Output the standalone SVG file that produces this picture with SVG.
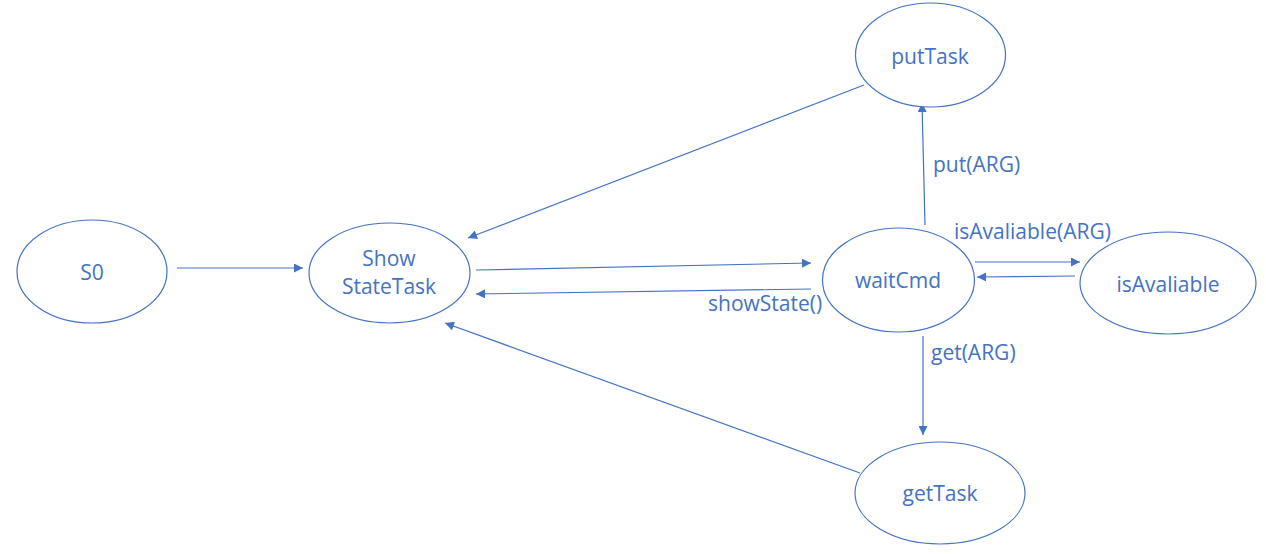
<svg xmlns="http://www.w3.org/2000/svg" width="1266" height="554" viewBox="0 0 1266 554">
<style>
.node{fill:#fff;stroke:#4472C4;stroke-width:1.2}
.t{font-family:"Open Sans","Liberation Sans",sans-serif;font-size:21px;fill:#4472C4;text-anchor:middle;dominant-baseline:central}
.lbl{font-family:"Open Sans","Liberation Sans",sans-serif;font-size:21px;fill:#4472C4;dominant-baseline:central}
.e{stroke:#4472C4;stroke-width:1.2;fill:none;marker-end:url(#ah)}
</style>
<defs>
<marker id="ah" viewBox="0 0 10 10" refX="10" refY="5" markerWidth="10" markerHeight="9" markerUnits="userSpaceOnUse" orient="auto">
<path d="M0,0 L10,5 L0,10 z" fill="#4472C4"/>
</marker>
</defs>
<rect width="1266" height="554" fill="#fff"/>
<g id="connectors">
<line class="e" x1="177" y1="268" x2="303" y2="268"/>
<line class="e" x1="476" y1="270" x2="811" y2="263"/>
<line class="e" x1="811" y1="289" x2="476" y2="294"/>
<line class="e" x1="864" y1="85" x2="468" y2="238"/>
<line class="e" x1="860" y1="473" x2="445" y2="323"/>
<line class="e" x1="925" y1="225" x2="922" y2="103"/>
<line class="e" x1="923" y1="336" x2="923" y2="435"/>
<line class="e" x1="975" y1="262" x2="1080" y2="262"/>
<line class="e" x1="1075" y1="276" x2="977" y2="277"/>
<text class="lbl" x="933" y="164">put(ARG)</text>
<text class="lbl" x="954" y="231">isAvaliable(ARG)</text>
<text class="lbl" x="708" y="303">showState()</text>
<text class="lbl" x="931" y="352">get(ARG)</text>
</g>
<g id="S0"><ellipse class="node" cx="92" cy="271.5" rx="75" ry="51.5"/><text class="t" x="92" y="272">S0</text></g>
<g id="ShowStateTask"><ellipse class="node" cx="389.5" cy="273" rx="80.5" ry="50"/><text class="t" x="389" y="258">Show</text><text class="t" x="389" y="286">StateTask</text></g>
<g id="putTask"><ellipse class="node" cx="930.5" cy="55" rx="75" ry="52"/><text class="t" x="930" y="56">putTask</text></g>
<g id="waitCmd"><ellipse class="node" cx="898.5" cy="280" rx="76" ry="52"/><text class="t" x="898" y="280">waitCmd</text></g>
<g id="isAvaliable"><ellipse class="node" cx="1168" cy="283" rx="88" ry="51"/><text class="t" x="1168" y="284">isAvaliable</text></g>
<g id="getTask"><ellipse class="node" cx="940" cy="493" rx="85" ry="51"/><text class="t" x="940" y="493">getTask</text></g>
</svg>
